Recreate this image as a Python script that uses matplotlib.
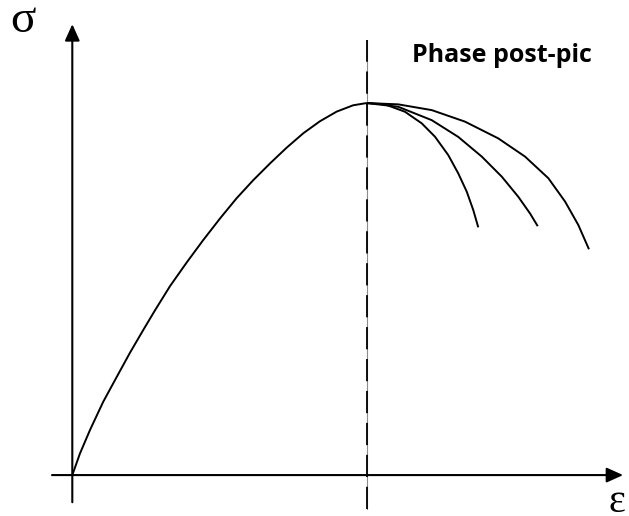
import matplotlib
matplotlib.use('Agg')
import matplotlib.pyplot as plt

# Courbe contrainte-déformation (unités arbitraires, pic à (1, 1))
eps_montee = [0.0, 0.026, 0.060, 0.105, 0.151, 0.196, 0.241, 0.281, 0.332, 0.389,
              0.445, 0.502, 0.558, 0.615, 0.672, 0.728, 0.785, 0.841, 0.898, 0.954, 1.0]
sig_montee = [0.0, 0.058, 0.121, 0.197, 0.264, 0.329, 0.390, 0.443, 0.508, 0.572,
              0.632, 0.690, 0.744, 0.793, 0.838, 0.880, 0.919, 0.951, 0.977, 0.994, 1.0]

# Trois branches post-pic
eps_post1 = [1.0, 1.062, 1.130, 1.187, 1.232, 1.277, 1.311, 1.340, 1.362, 1.379]
sig_post1 = [1.0, 0.9965, 0.9766, 0.9454, 0.9095, 0.8602, 0.8110, 0.7616, 0.7124, 0.6659]

eps_post2 = [1.0, 1.107, 1.221, 1.311, 1.391, 1.459, 1.515, 1.555, 1.581]
sig_post2 = [1.0, 0.990, 0.954, 0.909, 0.856, 0.802, 0.748, 0.703, 0.669]

eps_post3 = [1.0, 1.107, 1.221, 1.334, 1.447, 1.538, 1.617, 1.674, 1.719, 1.755]
sig_post3 = [1.0, 0.9965, 0.981, 0.950, 0.905, 0.856, 0.798, 0.735, 0.672, 0.607]

eps_pic = 1.0
titre = 'Phase post-pic'

plt.rcParams['lines.scale_dashes'] = False

fig = plt.figure(figsize=(6.29, 5.16), dpi=100)
ax = fig.add_axes([0, 0, 1, 1])
ax.set_xlim(-0.2456, 1.891)
ax.set_ylim(-0.110, 1.277)
ax.axis('off')

# Axes avec flèches
fleche = dict(arrowstyle='-|>,head_length=1.0,head_width=0.45', mutation_scale=10,
              lw=1.5, color='black', shrinkA=0, shrinkB=0)
ax.annotate('', xy=(1.871, 0), xytext=(-0.069, 0), arrowprops=fleche)
ax.annotate('', xy=(0, 1.212), xytext=(0, -0.073), arrowprops=fleche)

# Ligne verticale au pic
ax.plot([eps_pic, eps_pic], [-0.091, 1.169], color='0.55', lw=0.8)
ax.plot([eps_pic, eps_pic], [-0.091, 1.169], color='black', lw=1.3,
        dashes=(16, 7))

# Courbes
for x, y in [(eps_montee, sig_montee), (eps_post1, sig_post1),
             (eps_post2, sig_post2), (eps_post3, sig_post3)]:
    ax.plot(x, y, color='black', lw=1.4, solid_joinstyle='round',
            solid_capstyle='butt')

# Textes
ax.text(1.154, 1.110, titre, ha='left', va='baseline', fontsize=18,
        fontweight='bold', family='Open Sans')
ax.text(-0.169, 1.220, 'σ', ha='center', va='center', fontsize=34,
        family='Liberation Serif')
ax.text(1.850, -0.075, 'ε', ha='center', va='center', fontsize=29,
        family='Liberation Serif')

fig.savefig('out.png', dpi=100)
